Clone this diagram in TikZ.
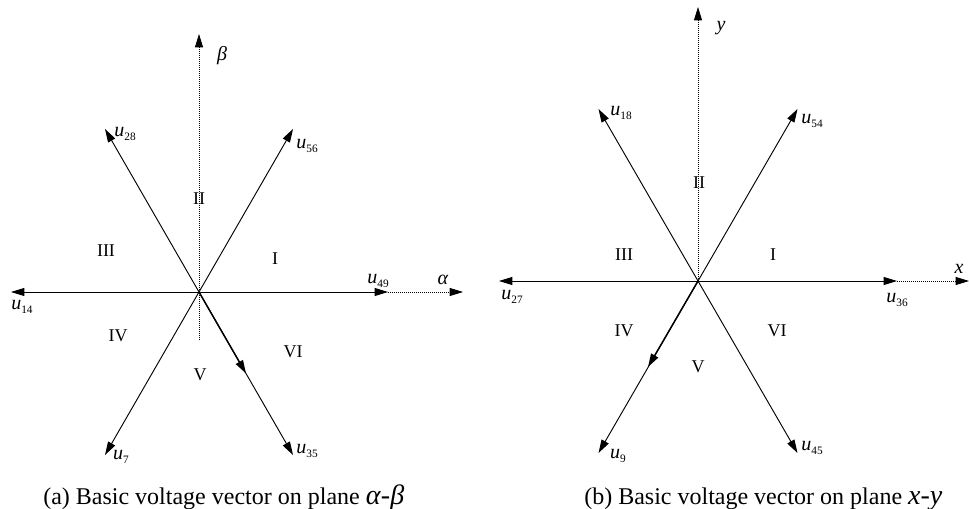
\documentclass[tikz,border=0pt]{standalone}
\usepackage{fontspec}
\setmainfont{Liberation Serif}
\usetikzlibrary{arrows.meta}
\newcommand\uvec[1]{\textit{u}\raisebox{-0.35ex}{\fontsize{8.5}{9}\selectfont #1}}
\begin{document}
\begin{tikzpicture}[x=0.75pt,y=-0.75pt,
  vec/.style={line width=0.7pt,-{Triangle[length=10pt,width=6pt]}},
  axisline/.style={line width=0.6pt,dash pattern=on 0.6pt off 0.9pt,-{Triangle[length=10pt,width=6pt]}},
  sector/.style={font=\fontsize{13.5}{15}\selectfont, inner sep=0pt},
  lab/.style={font=\fontsize{15}{16}\selectfont, inner sep=0pt},
  capt/.style={font=\fontsize{18}{20}\selectfont, inner sep=0pt, anchor=base west}]
\useasboundingbox (0,0) rectangle (969,509);

% ---------- panel (a) ----------
\coordinate (Oa) at (199,292);
\coordinate (a49) at (388,292);
\coordinate (a14) at (11,292);
\coordinate (a56) at (293,129);
\coordinate (a28) at (105,129);
\coordinate (a7) at (105,455);
\coordinate (a35) at (293,455);
\coordinate (aBt) at (199,34);
\coordinate (aBb) at (199,340);
\coordinate (aAl) at (463,292);
\coordinate (aMid) at (246,373.5);

\draw[axisline] (aBb) -- (aBt);
\draw[axisline] (a49) -- (aAl);
\foreach \t in {a49,a14,a56,a28,a7,a35} \draw[vec] (Oa) -- (\t);
\draw[vec, line width=1.1pt] (Oa) -- (aMid);

\node[lab] (lbeta) at (222,56) {\textit{β}};
\node[lab] (lalpha) at (443,280) {\textit{α}};
\node[lab] (l56) at (307,146) {\uvec{56}};
\node[lab] (l28) at (125,134) {\uvec{28}};
\node[lab] (l49) at (378,281) {\uvec{49}};
\node[lab] (l14) at (22,307) {\uvec{14}};
\node[lab] (l7) at (121,457) {\uvec{7}};
\node[lab] (l35) at (307,451) {\uvec{35}};

\node[sector] (aII) at (199,199) {II};
\node[sector] (aIII) at (106,251) {III};
\node[sector] (aI) at (275,259) {I};
\node[sector] (aIV) at (118,336) {IV};
\node[sector] (aV) at (200,375) {V};
\node[sector] (aVI) at (293,352) {VI};

\node[capt] (capa) at (43,504) {(a) Basic voltage vector on plane {\fontsize{21}{22}\selectfont\textit{α}-\textit{β}}};

% ---------- panel (b) ----------
\coordinate (Ob) at (698,281);
\coordinate (b36) at (897,281);
\coordinate (b27) at (499,281);
\coordinate (b54) at (797.5,109);
\coordinate (b18) at (598.5,109);
\coordinate (b9) at (598.5,453);
\coordinate (b45) at (797.5,453);
\coordinate (bYt) at (698,7);
\coordinate (bXr) at (969,281);
\coordinate (bMid) at (648,367);

\draw[axisline] (Ob) -- (bYt);
\draw[axisline] (b36) -- (bXr);
\foreach \t in {b36,b27,b54,b18,b9,b45} \draw[vec] (Ob) -- (\t);
\draw[vec, line width=1.1pt] (Ob) -- (bMid);

\node[lab] (ly) at (721,28) {\textit{y}};
\node[lab] (lx) at (959,269) {\textit{x}};
\node[lab] (l18) at (621,113) {\uvec{18}};
\node[lab] (l54) at (812,121) {\uvec{54}};
\node[lab] (l27) at (512,297) {\uvec{27}};
\node[lab] (l36) at (897,300) {\uvec{36}};
\node[lab] (l9) at (618,456) {\uvec{9}};
\node[lab] (l45) at (812,448) {\uvec{45}};

\node[sector] (bII) at (699,183) {II};
\node[sector] (bIII) at (624,255) {III};
\node[sector] (bI) at (773,255) {I};
\node[sector] (bIV) at (624,331) {IV};
\node[sector] (bV) at (698,367) {V};
\node[sector] (bVI) at (777,331) {VI};

\node[capt] (capb) at (584,504) {(b) Basic voltage vector on plane {\fontsize{21}{22}\selectfont\textit{x}-\textit{y}}};
\end{tikzpicture}
\end{document}
